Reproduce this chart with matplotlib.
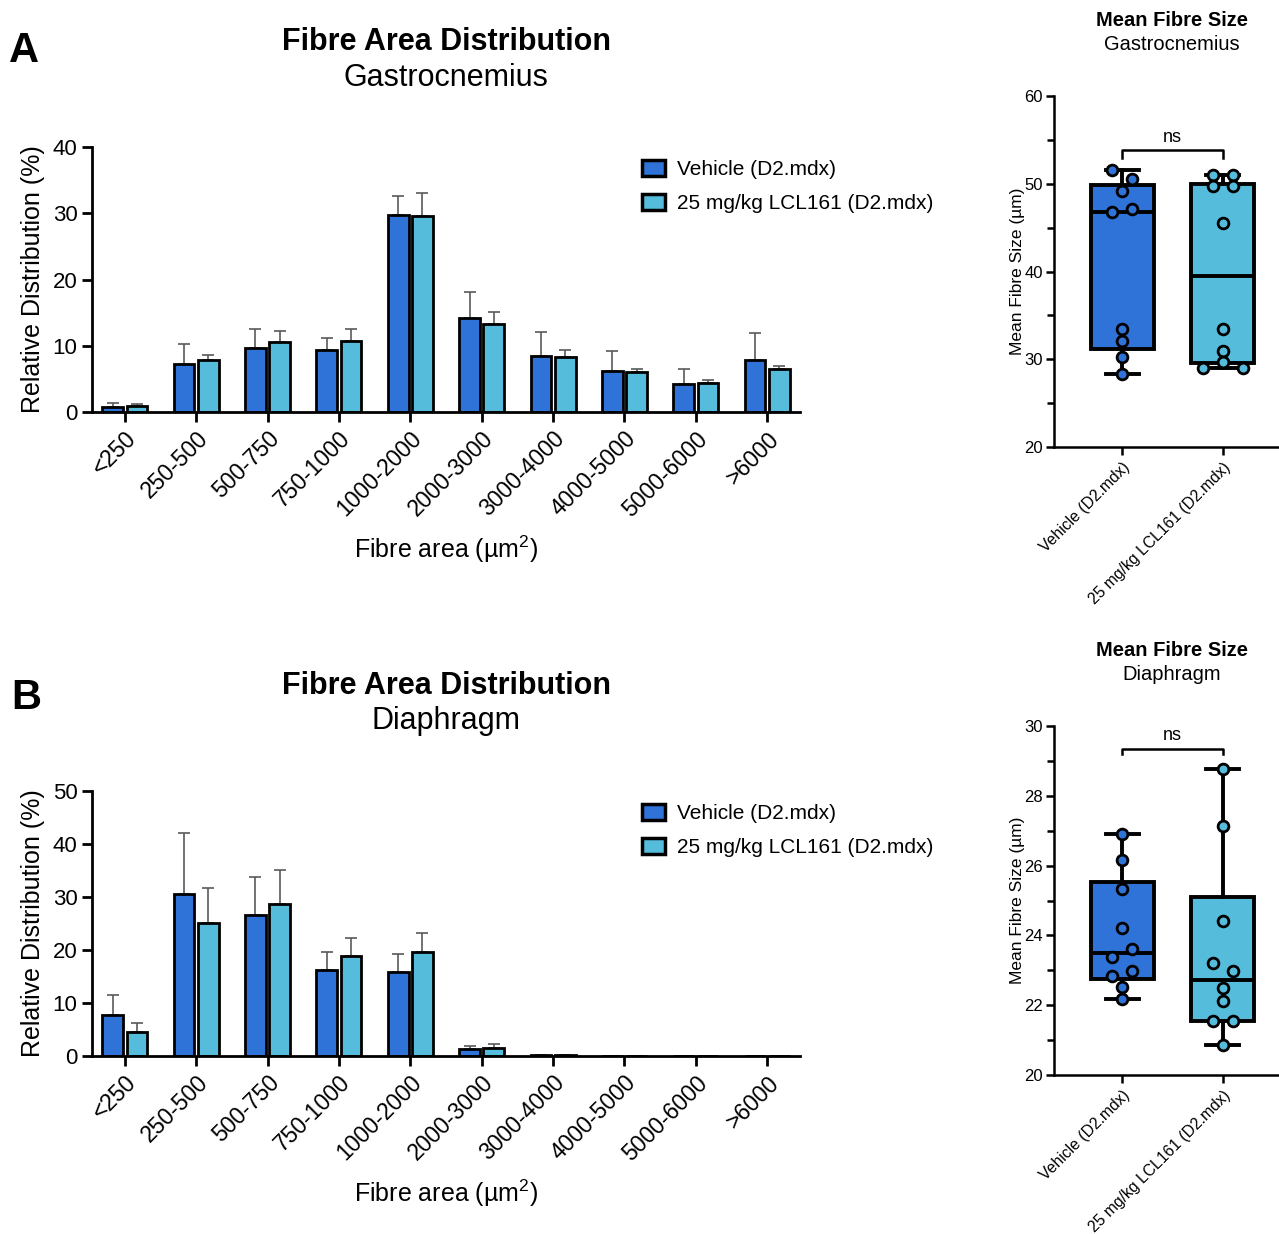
import numpy as np
import matplotlib
matplotlib.use("Agg")
import matplotlib.pyplot as plt
from matplotlib.patches import Patch

plt.rcParams['font.family'] = ['Liberation Sans', 'DejaVu Sans']
plt.rcParams['mathtext.fontset'] = 'custom'
plt.rcParams['mathtext.rm'] = 'Liberation Sans'
plt.rcParams['mathtext.it'] = 'Liberation Sans:italic'
plt.rcParams['mathtext.bf'] = 'Liberation Sans:bold'

# ---------------- data ----------------
categories = ['<250', '250-500', '500-750', '750-1000', '1000-2000', '2000-3000',
              '3000-4000', '4000-5000', '5000-6000', '>6000']
group_labels = ['Vehicle (D2.mdx)', '25 mg/kg LCL161 (D2.mdx)']

gas_veh_mean = [0.76, 7.3, 9.6, 9.3, 29.8, 14.2, 8.5, 6.2, 4.3, 7.9]
gas_veh_err = [0.6, 3.0, 2.9, 1.8, 2.8, 3.9, 3.6, 3.0, 2.2, 4.1]
gas_lcl_mean = [0.97, 7.9, 10.6, 10.7, 29.6, 13.3, 8.25, 6.1, 4.4, 6.5]
gas_lcl_err = [0.25, 0.7, 1.7, 1.8, 3.5, 1.8, 1.05, 0.4, 0.4, 0.5]

dia_veh_mean = [7.66, 30.6, 26.6, 16.2, 15.9, 1.26, 0.1, 0.02, 0.0, 0.0]
dia_veh_err = [3.9, 11.4, 7.1, 3.5, 3.3, 0.64, 0.05, 0.0, 0.0, 0.0]
dia_lcl_mean = [4.46, 25.06, 28.6, 18.8, 19.7, 1.57, 0.1, 0.02, 0.0, 0.0]
dia_lcl_err = [1.7, 6.6, 6.45, 3.5, 3.6, 0.73, 0.05, 0.0, 0.0, 0.0]

gas_size_veh = [51.55, 50.56, 49.2, 46.8, 47.07, 33.4, 32.1, 30.2, 28.3]
gas_size_lcl = [51.0, 51.0, 49.7, 49.7, 45.5, 33.5, 30.9, 29.7, 29.0, 29.0]
dia_size_veh = [26.9, 26.16, 25.32, 24.2, 23.62, 23.37, 22.99, 22.83, 22.51, 22.19]
dia_size_lcl = [28.77, 27.14, 24.41, 23.21, 22.97, 22.49, 22.11, 21.54, 21.54, 20.86]

# horizontal spread of points (layout only)
gas_jit_veh = [-0.1, 0.1, 0, -0.1, 0.1, 0, 0, 0, 0]
gas_jit_lcl = [-0.1, 0.1, -0.1, 0.1, 0, 0, 0, 0, -0.2, 0.2]
dia_jit_veh = [0, 0, 0, 0, 0.1, -0.1, 0.1, -0.1, 0, 0]
dia_jit_lcl = [0, 0, 0, -0.1, 0.1, 0, 0, -0.1, 0.1, 0]

C_VEH = '#2F72D8'
C_LCL = '#55BCDC'
W, H = 1279, 1234

fig = plt.figure(figsize=(W / 100, H / 100), dpi=100)


def fx(px):
    return px / W


def fy(py):
    return 1 - py / H


def bar_panel(rect, veh_m, veh_e, lcl_m, lcl_e, ymax):
    ax = fig.add_axes(rect)
    x = np.arange(len(categories))
    off, w = 0.17, 0.29
    ax.errorbar(x - off, veh_m, yerr=[np.zeros(len(veh_e)), veh_e], fmt='none',
                ecolor='#5a5a5a', elinewidth=1.2, capsize=4, capthick=1.2, zorder=1)
    ax.errorbar(x + off, lcl_m, yerr=[np.zeros(len(lcl_e)), lcl_e], fmt='none',
                ecolor='#5a5a5a', elinewidth=1.2, capsize=4, capthick=1.2, zorder=1)
    ax.bar(x - off, veh_m, w, color=C_VEH, edgecolor='black', linewidth=2.0,
           zorder=2, label=group_labels[0])
    ax.bar(x + off, lcl_m, w, color=C_LCL, edgecolor='black', linewidth=2.0,
           zorder=2, label=group_labels[1])
    ax.set_xlim(-0.46, 9.46)
    ax.set_ylim(0, ymax)
    ax.set_yticks(np.arange(0, ymax + 1, 10))
    ax.set_xticks(x)
    ax.set_xticklabels(categories, rotation=45, ha='right', rotation_mode='anchor',
                       fontsize=16.5)
    for s in ['top', 'right']:
        ax.spines[s].set_visible(False)
    for s in ['left', 'bottom']:
        ax.spines[s].set_linewidth(2)
    ax.tick_params(axis='both', width=2, length=7, colors='black')
    ax.tick_params(axis='y', labelsize=16)
    ax.tick_params(axis='x', pad=4)
    ax.set_ylabel('Relative Distribution (%)', fontsize=18)
    ax.yaxis.set_label_coords(-0.066, 0.5)
    ax.set_xlabel('Fibre area (µm$^{\\mathrm{2}}$)', fontsize=18)
    ax.xaxis.set_label_coords(0.5, -0.46)
    handles = [Patch(facecolor=C_VEH, edgecolor='black', linewidth=2.5),
               Patch(facecolor=C_LCL, edgecolor='black', linewidth=2.5)]
    ax.legend(handles, group_labels, loc='upper left',
              bbox_to_anchor=(0.765, 0.984), frameon=False, fontsize=15,
              handlelength=1.1, handleheight=0.85, handletextpad=0.6,
              labelspacing=0.7, borderaxespad=0)
    return ax


def box_panel(rect, veh, lcl, jv, jl, ylim, major, minor, br, ns_y):
    ax = fig.add_axes(rect)
    stats = []
    for d in (veh, lcl):
        a = np.array(d)
        q1, med, q3 = np.percentile(a, [25, 50, 75], method='weibull')
        stats.append(dict(med=med, q1=q1, q3=q3, whislo=a.min(), whishi=a.max(),
                          fliers=[]))
    b = ax.bxp(stats, positions=[1, 2], widths=0.63, capwidths=0.33,
               patch_artist=True, showfliers=False,
               boxprops=dict(linewidth=2.8, edgecolor='black'),
               medianprops=dict(linewidth=2.8, color='black'),
               whiskerprops=dict(linewidth=2.8, color='black'),
               capprops=dict(linewidth=2.8, color='black'))
    for patch, c in zip(b['boxes'], [C_VEH, C_LCL]):
        patch.set_facecolor(c)
    ax.scatter(1 + np.array(jv), veh, s=60, facecolor=C_VEH, edgecolor='black',
               linewidth=2, zorder=5, clip_on=False)
    ax.scatter(2 + np.array(jl), lcl, s=60, facecolor=C_LCL, edgecolor='black',
               linewidth=2, zorder=5, clip_on=False)
    ax.set_xlim(0.32, 2.55)
    ax.set_ylim(*ylim)
    ax.set_yticks(major)
    ax.set_yticks(minor, minor=True)
    ax.set_xticks([1, 2])
    ax.set_xticklabels(group_labels, rotation=45, ha='right', rotation_mode='anchor')
    for s in ['top', 'right']:
        ax.spines[s].set_visible(False)
    for s in ['left', 'bottom']:
        ax.spines[s].set_linewidth(1.8)
    ax.tick_params(axis='both', which='major', width=1.8, length=6, labelsize=12,
                   colors='black')
    ax.tick_params(axis='x', labelsize=11.3, pad=3)
    ax.tick_params(axis='y', which='minor', width=1.8, length=5)
    ax.tick_params(axis='y', pad=2)
    ax.set_ylabel('Mean Fibre Size (µm)', fontsize=12.5)
    ax.yaxis.set_label_coords(-0.13, 0.5)
    ax.plot([1, 1, 2, 2], [br[0], br[1], br[1], br[0]], color='black', lw=1.8,
            clip_on=False)
    ax.text(1.5, ns_y, 'ns', ha='center', va='center', fontsize=13)
    return ax


bar_panel([fx(92), fy(412), fx(800) - fx(92), fy(147) - fy(412)],
          gas_veh_mean, gas_veh_err, gas_lcl_mean, gas_lcl_err, 40)
bar_panel([fx(92), fy(1056), fx(800) - fx(92), fy(791) - fy(1056)],
          dia_veh_mean, dia_veh_err, dia_lcl_mean, dia_lcl_err, 50)

box_panel([fx(1054), fy(447), fx(1278) - fx(1054), fy(96) - fy(447)],
          gas_size_veh, gas_size_lcl, gas_jit_veh, gas_jit_lcl, (20, 60),
          [20, 30, 40, 50, 60], [25, 35, 45, 55], (52.9, 53.9), 55.3)
box_panel([fx(1054), fy(1075), fx(1278) - fx(1054), fy(726) - fy(1075)],
          dia_size_veh, dia_size_lcl, dia_jit_veh, dia_jit_lcl, (20, 30),
          [20, 22, 24, 26, 28, 30], [21, 23, 25, 27, 29], (29.19, 29.35), 29.73)

# titles
fig.text(fx(446), fy(42), 'Fibre Area Distribution', ha='center', va='center',
         fontsize=22, fontweight='bold')
fig.text(fx(446), fy(78), 'Gastrocnemius', ha='center', va='center', fontsize=22)
fig.text(fx(446), fy(686), 'Fibre Area Distribution', ha='center', va='center',
         fontsize=22, fontweight='bold')
fig.text(fx(446), fy(721), 'Diaphragm', ha='center', va='center', fontsize=22)

fig.text(fx(1172), fy(20), 'Mean Fibre Size', ha='center', va='center',
         fontsize=14.5, fontweight='bold')
fig.text(fx(1172), fy(44), 'Gastrocnemius', ha='center', va='center', fontsize=14.5)
fig.text(fx(1172), fy(650), 'Mean Fibre Size', ha='center', va='center',
         fontsize=14.5, fontweight='bold')
fig.text(fx(1172), fy(674), 'Diaphragm', ha='center', va='center', fontsize=14.5)

fig.text(fx(24), fy(51), 'A', ha='center', va='center', fontsize=30, fontweight='bold')
fig.text(fx(26), fy(698), 'B', ha='center', va='center', fontsize=30, fontweight='bold')

fig.savefig('out.png', dpi=100)
